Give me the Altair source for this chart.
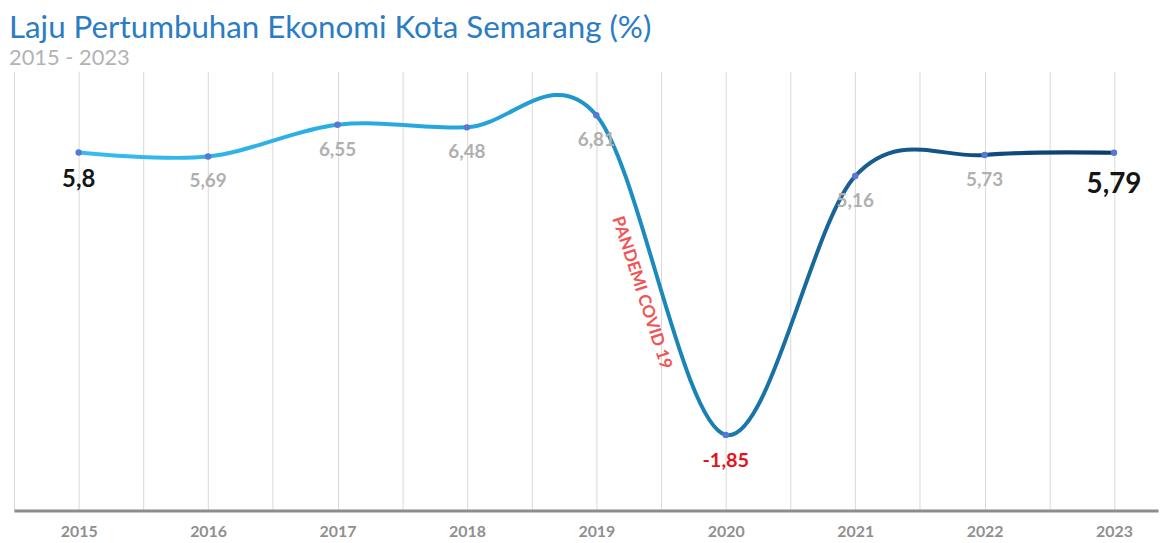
import altair as alt
import pandas as pd

years = [2015, 2016, 2017, 2018, 2019, 2020, 2021, 2022, 2023]
values = [5.80, 5.69, 6.55, 6.48, 6.81, -1.85, 5.16, 5.73, 5.79]
labels = ["5,8", "5,69", "6,55", "6,48", "6,81", "-1,85", "5,16", "5,73", "5,79"]

note_text = "PANDEMI COVID 19"
note_year = [2019.35]
note_value = [2.0]

df = pd.DataFrame({"year": years, "value": values, "label": labels})
note_df = pd.DataFrame({"year": note_year, "value": note_value, "label": [note_text]})

first_year = years[0]
last_year = years[-1]
low_year = years[values.index(min(values))]
grid_vals = [y - 0.5 for y in years] + years

FONT = "Lato"

x_enc = alt.X(
    "year:Q",
    scale=alt.Scale(domain=[years[0] - 0.5, years[-1] + 0.34], nice=False, zero=False),
    axis=alt.Axis(
        values=grid_vals,
        grid=True,
        gridColor="#d9d9d9",
        gridWidth=1,
        domainColor="#8c8c8c",
        domainWidth=3,
        ticks=False,
        labelExpr="datum.value % 1 === 0 ? format(datum.value, 'd') : ''",
        labelColor="#8f8f8f",
        labelFontSize=16,
        labelFontWeight="bold",
        labelFont=FONT,
        labelPadding=13,
        labelOverlap=False,
        labelFlush=False,
        title=None,
    ),
)
y_enc = alt.Y(
    "value:Q",
    scale=alt.Scale(domain=[-3.9, 8], nice=False, zero=False),
    axis=None,
)

base = alt.Chart(df).encode(x=x_enc, y=y_enc)

gradient = alt.Gradient(
    gradient="linear",
    stops=[
        alt.GradientStop(color="#36bdf0", offset=0),
        alt.GradientStop(color="#23a3d9", offset=0.4),
        alt.GradientStop(color="#1a86b8", offset=0.58),
        alt.GradientStop(color="#175f94", offset=0.75),
        alt.GradientStop(color="#0b3a6c", offset=1),
    ],
    x1=0, x2=1, y1=0, y2=0,
)

line = base.mark_line(interpolate="cardinal", strokeWidth=4, stroke=gradient)
points = base.mark_circle(size=42, color="#5878d4", opacity=1)

gray_labels = base.transform_filter(
    ~alt.FieldOneOfPredicate(field="year", oneOf=[first_year, last_year, low_year])
).mark_text(dy=25, fontSize=19, fontWeight="bold", color="#b0b0b0", font=FONT).encode(text="label:N")

first_label = base.transform_filter(alt.datum.year == first_year).mark_text(
    dy=28, fontSize=24, fontWeight="bold", color="#151515", font=FONT
).encode(text="label:N")

last_label = base.transform_filter(alt.datum.year == last_year).mark_text(
    dy=32, fontSize=28, fontWeight="bold", color="#151515", font=FONT
).encode(text="label:N")

low_label = base.transform_filter(alt.datum.year == low_year).mark_text(
    dy=26, fontSize=20, fontWeight="bold", color="#e3141b", font=FONT
).encode(text="label:N")

note = alt.Chart(note_df).mark_text(
    angle=72, fontSize=17, fontWeight="bold", color="#f05454", font=FONT
).encode(x=x_enc, y=y_enc, text="label:N")

chart = (
    alt.layer(line, points, gray_labels, first_label, last_label, low_label, note)
    .properties(
        width=1151,
        height=442,
        padding={"left": 1, "top": 3, "right": 5, "bottom": 0},
        background="white",
        title=alt.TitleParams(
            text="Laju Pertumbuhan Ekonomi Kota Semarang (%)",
            subtitle="2015 - 2023",
            anchor="start",
            dx=-5,
            font=FONT,
            fontSize=31.5,
            fontWeight="normal",
            color="#2a7cc4",
            subtitleFont=FONT,
            subtitleFontSize=22,
            subtitleColor="#b3b3b3",
            subtitlePadding=4,
            offset=2,
        ),
    )
    .configure_view(stroke=None)
)

chart.save("out.html", embed_options={"renderer": "svg", "actions": False})
